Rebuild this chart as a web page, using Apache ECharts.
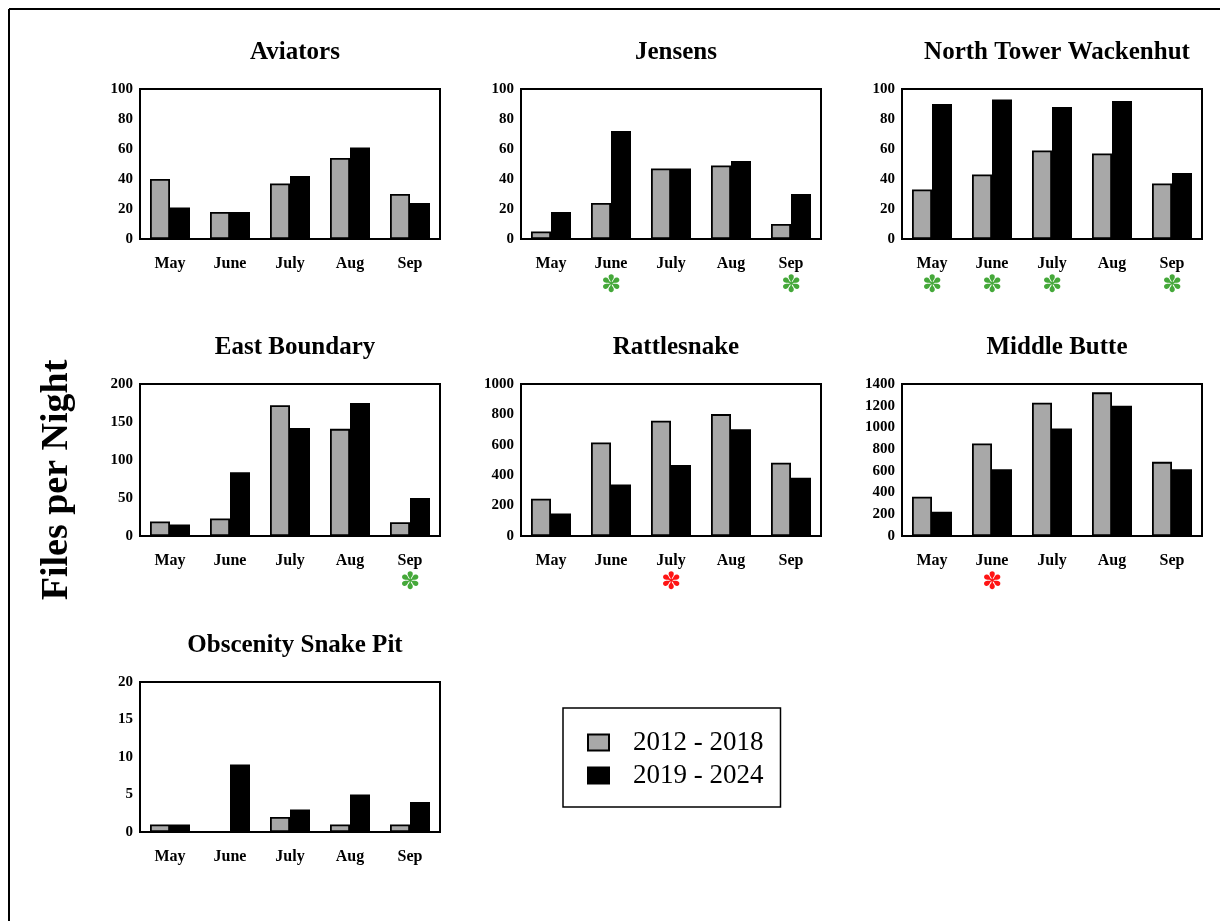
<!DOCTYPE html>
<html>
<head>
<meta charset="utf-8">
<title>Files per Night</title>
<script src="https://cdn.jsdelivr.net/npm/echarts@6/dist/echarts.min.js"></script>
<style>
  html, body { margin: 0; padding: 0; background: #fff; }
  #chart { width: 1220px; height: 921px; }
</style>
</head>
<body>
<div id="chart"></div>
<script>
// Months shown on every panel
const months = ['May', 'June', 'July', 'Aug', 'Sep'];
const seriesNames = ['2012 - 2018', '2019 - 2024'];

// Mean files per night, per site
const aviatorsEarly = [40, 18, 37, 54, 30];
const aviatorsLate  = [21, 18, 42, 61, 24];
const jensensEarly  = [5, 24, 47, 49, 10];
const jensensLate   = [18, 72, 47, 52, 30];
const northTowerEarly = [33, 43, 59, 57, 37];
const northTowerLate  = [90, 93, 88, 92, 44];
const eastBoundaryEarly = [19, 23, 172, 141, 18];
const eastBoundaryLate  = [15, 84, 142, 175, 50];
const rattlesnakeEarly = [245, 615, 758, 802, 482];
const rattlesnakeLate  = [148, 339, 467, 703, 383];
const middleButteEarly = [362, 853, 1227, 1323, 683];
const middleButteLate  = [223, 615, 989, 1199, 615];
const snakePitEarly = [1, 0, 2, 1, 1];
const snakePitLate  = [1, 9, 3, 5, 4];

// Significance markers under months ('up' = increase, 'down' = decrease)
const aviatorsMarks     = ['', '', '', '', ''];
const jensensMarks      = ['', 'up', '', '', 'up'];
const northTowerMarks   = ['up', 'up', 'up', '', 'up'];
const eastBoundaryMarks = ['', '', '', '', 'up'];
const rattlesnakeMarks  = ['', '', 'down', '', ''];
const middleButteMarks  = ['', 'down', '', '', ''];
const snakePitMarks     = ['', '', '', '', ''];

// Axis ranges
const yMaxima = [100, 100, 100, 200, 1000, 1400, 20];
const ySteps  = [20, 20, 20, 50, 200, 200, 5];

const panels = [
  { name: 'Aviators', early: aviatorsEarly, late: aviatorsLate, marks: aviatorsMarks },
  { name: 'Jensens', early: jensensEarly, late: jensensLate, marks: jensensMarks },
  { name: 'North Tower Wackenhut', early: northTowerEarly, late: northTowerLate, marks: northTowerMarks },
  { name: 'East Boundary', early: eastBoundaryEarly, late: eastBoundaryLate, marks: eastBoundaryMarks },
  { name: 'Rattlesnake', early: rattlesnakeEarly, late: rattlesnakeLate, marks: rattlesnakeMarks },
  { name: 'Middle Butte', early: middleButteEarly, late: middleButteLate, marks: middleButteMarks },
  { name: 'Obscenity Snake Pit', early: snakePitEarly, late: snakePitLate, marks: snakePitMarks }
];

// Plot rectangles for the 3-column layout
const lefts = [140, 521, 902];
const tops = [89, 384, 682];
const heights = [150, 152, 150];
const plotWidth = 300;

const SERIF = '"Liberation Serif", "Times New Roman", serif';
const GRAY = '#a8a8a8';

const chart = echarts.init(document.getElementById('chart'), null, { renderer: 'canvas' });

const grids = [], xAxes = [], yAxes = [], titles = [], series = [];

panels.forEach((p, i) => {
  const col = i % 3, row = Math.floor(i / 3);
  grids.push({
    left: lefts[col], top: tops[row], width: plotWidth, height: heights[row],
    show: true, borderColor: '#000', borderWidth: 2, backgroundColor: 'transparent',
    containLabel: false
  });
  titles.push({
    text: p.name,
    left: lefts[col] + plotWidth / 2,
    top: tops[row] - 54,
    textAlign: 'center',
    textStyle: { fontFamily: SERIF, fontWeight: 'bold', fontSize: 25, color: '#000' }
  });
  const marks = p.marks;
  xAxes.push({
    type: 'category', gridIndex: i, data: months,
    axisLine: { show: true, lineStyle: { color: '#000', width: 2 } },
    axisTick: { show: false },
    axisLabel: {
      margin: 17, color: '#000', fontFamily: SERIF, fontWeight: 'bold', fontSize: 16,
      interval: 0,
      formatter: (v, idx) => marks[idx] === 'up' ? v + '\n{up|✽}'
                           : marks[idx] === 'down' ? v + '\n{down|✽}' : v,
      rich: {
        up:   { color: '#45a83a', fontSize: 24, lineHeight: 28, fontFamily: '"DejaVu Sans"' },
        down: { color: '#ff1414', fontSize: 24, lineHeight: 28, fontFamily: '"DejaVu Sans"' }
      }
    }
  });
  yAxes.push({
    type: 'value', gridIndex: i, min: 0, max: yMaxima[i], interval: ySteps[i],
    axisLine: { show: true, lineStyle: { color: '#000', width: 2 } },
    axisTick: { show: false },
    splitLine: { show: false },
    axisLabel: {
      margin: 7, color: '#000', fontFamily: SERIF, fontWeight: 'bold', fontSize: 15,
      formatter: v => String(v)
    }
  });
  series.push({
    name: seriesNames[0], type: 'bar', xAxisIndex: i, yAxisIndex: i,
    data: p.early, barWidth: 20, barGap: '0%',
    itemStyle: { color: GRAY, borderColor: '#000', borderWidth: 1.8 }
  });
  series.push({
    name: seriesNames[1], type: 'bar', xAxisIndex: i, yAxisIndex: i,
    data: p.late, barWidth: 20, barGap: '0%',
    itemStyle: { color: '#000', borderColor: '#000', borderWidth: 1.8 }
  });
});

chart.setOption({
  animation: false,
  backgroundColor: '#fff',
  title: titles,
  grid: grids,
  xAxis: xAxes,
  yAxis: yAxes,
  series: series,
  legend: {
    data: seriesNames.map(n => ({ name: n, icon: 'rect' })),
    orient: 'vertical',
    left: 563, top: 708,
    padding: [21, 17, 18, 24],
    itemWidth: 21, itemHeight: 16, itemGap: 6,
    borderColor: '#000', borderWidth: 1.5,
    selectedMode: false,
    textStyle: { fontFamily: SERIF, fontSize: 27, color: '#000', padding: [0, 0, 0, 19] }
  },
  graphic: [
    { type: 'line', shape: { x1: 9, y1: 9, x2: 1220, y2: 9 }, style: { stroke: '#000', lineWidth: 2 } },
    { type: 'line', shape: { x1: 9, y1: 9, x2: 9, y2: 921 }, style: { stroke: '#000', lineWidth: 2 } },
    {
      type: 'text', x: 57, y: 480, rotation: Math.PI / 2,
      style: {
        text: 'Files per Night', fill: '#000',
        font: 'bold 38px "Liberation Serif", "Times New Roman", serif',
        textAlign: 'center', textVerticalAlign: 'middle'
      }
    }
  ]
});
</script>
</body>
</html>
